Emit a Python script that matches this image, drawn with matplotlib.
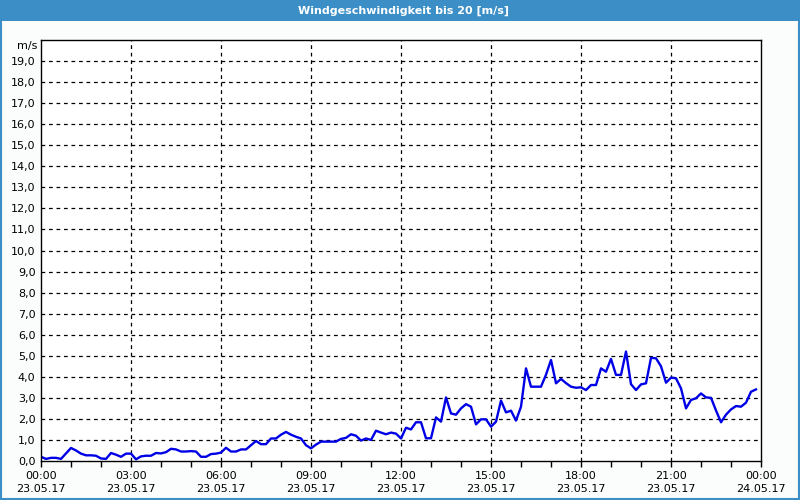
import matplotlib
matplotlib.use("Agg")
import matplotlib.pyplot as plt
from matplotlib.patches import Rectangle
from matplotlib.ticker import MultipleLocator

# --- Data (minutes after 23.05.17 00:00, wind speed m/s) ---
minutes = [0, 10, 20, 30, 40, 60, 70, 80, 90, 100, 110, 120, 130, 140, 150,
           160, 170, 180, 190, 200, 210, 220, 230, 240, 250, 260, 270, 280,
           290, 300, 310, 320, 330, 340, 350, 360, 370, 380, 390, 400, 410,
           420, 430, 440, 450, 460, 470, 480, 490, 500, 510, 520, 530, 540,
           550, 560, 570, 580, 590, 600, 610, 620, 630, 640, 650, 660, 670,
           680, 690, 700, 710, 720, 730, 740, 750, 760, 770, 780, 790, 800,
           810, 820, 830, 840, 850, 860, 870, 880, 890, 900, 910, 920, 930,
           940, 950, 960, 970, 980, 990, 1000, 1010, 1020, 1030, 1040, 1050,
           1060, 1070, 1080, 1090, 1100, 1110, 1120, 1130, 1140, 1150, 1160,
           1170, 1180, 1190, 1200, 1210, 1220, 1230, 1240, 1250, 1260, 1270,
           1280, 1290, 1300, 1310, 1320, 1330, 1340, 1350, 1360, 1370, 1380,
           1390, 1400, 1410, 1420, 1430]
speed = [0.2, 0.1, 0.15, 0.15, 0.1, 0.62, 0.5, 0.35, 0.27, 0.27, 0.25, 0.12,
         0.1, 0.38, 0.3, 0.2, 0.35, 0.35, 0.08, 0.22, 0.25, 0.25, 0.38, 0.36,
         0.42, 0.58, 0.55, 0.45, 0.45, 0.47, 0.45, 0.2, 0.2, 0.33, 0.35, 0.4,
         0.63, 0.45, 0.45, 0.55, 0.55, 0.75, 0.95, 0.8, 0.8, 1.07, 1.07, 1.25,
         1.38, 1.25, 1.15, 1.07, 0.75, 0.6, 0.78, 0.92, 0.92, 0.92, 0.92, 1.05,
         1.1, 1.27, 1.2, 0.97, 1.07, 1.0, 1.44, 1.35, 1.27, 1.35, 1.3, 1.07,
         1.58, 1.5, 1.84, 1.84, 1.08, 1.08, 2.07, 1.87, 3.02, 2.26, 2.2, 2.5,
         2.7, 2.58, 1.74, 1.98, 1.98, 1.63, 1.87, 2.87, 2.31, 2.39, 1.92, 2.58,
         4.4, 3.53, 3.53, 3.53, 4.1, 4.8, 3.69, 3.9, 3.7, 3.53, 3.48, 3.5,
         3.37, 3.61, 3.61, 4.4, 4.24, 4.85, 4.09, 4.09, 5.2, 3.65, 3.37, 3.64,
         3.69, 4.9, 4.88, 4.5, 3.72, 3.96, 3.93, 3.45, 2.5, 2.9, 2.98, 3.21,
         3.02, 3.0, 2.4, 1.84, 2.2, 2.45, 2.61, 2.58, 2.77, 3.29, 3.4]

x_ticks = [0, 180, 360, 540, 720, 900, 1080, 1260, 1440]
x_labels = ["00:00\n23.05.17", "03:00\n23.05.17", "06:00\n23.05.17",
            "09:00\n23.05.17", "12:00\n23.05.17", "15:00\n23.05.17",
            "18:00\n23.05.17", "21:00\n23.05.17", "00:00\n24.05.17"]
y_ticks = list(range(0, 20))
y_labels = [f"{v},0" for v in y_ticks]
title = "Windgeschwindigkeit bis 20 [m/s]"

BLUE = "#3b8fc6"
BG = "#fafdfb"

fig = plt.figure(figsize=(8, 5), dpi=100)
fig.patch.set_facecolor(BG)

# title bar and window frame
fig.patches.append(Rectangle((0, 1 - 21 / 500), 1, 21 / 500, transform=fig.transFigure,
                             facecolor=BLUE, edgecolor="none", zorder=0))
fig.patches.append(Rectangle((0.001, 0.002), 0.998, 0.996, transform=fig.transFigure,
                             facecolor="none", edgecolor=BLUE, lw=1.5, zorder=0))
fig.text(0.505, 1 - 10.5 / 500, title, color="white", fontsize=8, fontweight="bold",
         ha="center", va="center")

ax = fig.add_axes([41 / 800, 39 / 500, 720 / 800, 421 / 500])
ax.set_facecolor("white")
ax.plot(minutes, speed, color="#0000e6", lw=1.7, solid_joinstyle="round")

ax.set_xlim(0, 1440)
ax.set_ylim(0, 20)
ax.set_xticks(x_ticks)
ax.set_xticklabels(x_labels, linespacing=1.45)
ax.xaxis.set_minor_locator(MultipleLocator(60))
ax.set_yticks(y_ticks)
ax.set_yticklabels(y_labels)

ax.tick_params(axis="x", which="both", direction="out", length=4, width=1,
               labelsize=8, pad=3)
ax.tick_params(axis="y", which="both", length=0, labelsize=8, pad=4)

for v in range(1, 20):
    ax.axhline(v, color="black", lw=0.9, ls=(0, (3, 3)), zorder=1)
for m in x_ticks[1:-1]:
    ax.axvline(m, color="black", lw=0.9, ls=(0, (3, 3)), zorder=1)

for s in ax.spines.values():
    s.set_linewidth(1.0)
    s.set_color("black")

ax.text(-4 / 720, 1.0 - 6 / 421, "m/s", transform=ax.transAxes, ha="right",
        va="center", fontsize=8)

fig.savefig("out.png", dpi=100, facecolor=fig.get_facecolor())
